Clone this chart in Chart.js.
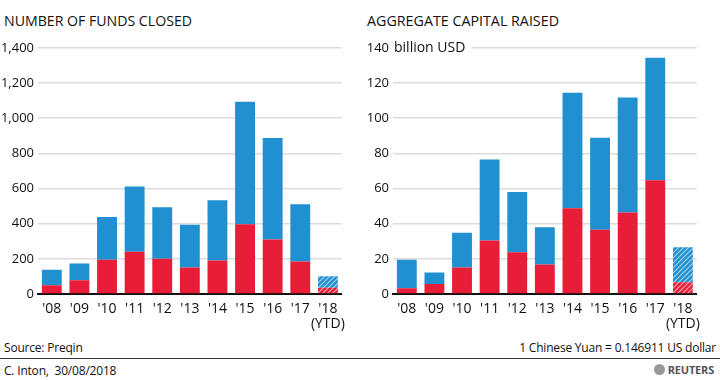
<!DOCTYPE html>
<html>
<head>
<meta charset="utf-8">
<script src="https://cdn.jsdelivr.net/npm/chart.js@4.4.1/dist/chart.umd.min.js"></script>
<style>
  body { margin: 0; width: 720px; height: 380px; background: #fff; font-family: 'Open Sans', sans-serif; color: #111; position: relative; overflow: hidden; }
  .title { position: absolute; top: 10px; font-size: 15px; white-space: nowrap; transform-origin: left top; }
  .box { position: absolute; top: 36px; height: 296px; }
  .foot { position: absolute; font-size: 12px; letter-spacing: -0.2px; }
  .rule { position: absolute; left: 0; width: 720px; top: 358px; height: 1px; background: #333; }
</style>
</head>
<body>
<div class="title" id="t1" style="left:4px" data-w="188">NUMBER OF FUNDS CLOSED</div>
<div class="title" id="t2" style="left:367px" data-w="192">AGGREGATE CAPITAL RAISED</div>
<div class="box" style="left:0; width:345px"><canvas id="funds-chart"></canvas></div>
<div class="box" style="left:355px; width:345px"><canvas id="capital-chart"></canvas></div>
<div class="foot" style="left:4px; top:339px">Source: Preqin</div>
<div class="foot" style="right:4px; top:339px">1 Chinese Yuan = 0.146911 US dollar</div>
<div class="rule"></div>
<div class="foot" style="left:4px; top:362px">C. Inton,&nbsp; 30/08/2018</div>
<div class="foot" style="right:6px; top:362px; font-weight:bold; font-size:11px; color:#555">
  <span style="display:inline-block;width:11px;height:11px;border-radius:50%;background:#999;vertical-align:-1px;margin-right:3px"></span>REUTERS</div>

<script>
const years = ["'08", "'09", "'10", "'11", "'12", "'13", "'14", "'15", "'16", "'17", ["'18", "(YTD)"]]

// number of funds closed: red part (bottom) and total height of bar
const fundsRed = [50, 78, 195, 240, 200, 150, 190, 396, 310, 185, 36]
const fundsTotal = [138, 173, 438, 611, 493, 394, 533, 1093, 887, 510, 101]
const fundsTicks = [0, 200, 400, 600, 800, 1000, 1200, 1400]

// aggregate capital raised, billion USD
const capitalRed = [3.3, 5.7, 15.1, 30.4, 23.7, 16.8, 48.8, 36.5, 46.3, 64.7, 6.7]
const capitalTotal = [19.5, 12.2, 34.8, 76.5, 58, 37.9, 114.4, 88.8, 111.7, 134.3, 26.6]
const capitalTicks = [0, 20, 40, 60, 80, 100, 120, 140]

const blue = '#2190d0'
const red = '#e81d37'

// squeeze the titles to the reference width (narrower original typeface)
document.querySelectorAll('.title').forEach(t => {
    let w = t.getBoundingClientRect().width
    t.style.transform = 'scaleX(' + (t.dataset.w / w) + ')'
})

function hatch(color) {
    let c = document.createElement('canvas')
    c.width = 5
    c.height = 5
    let g = c.getContext('2d')
    g.fillStyle = color
    g.fillRect(0, 0, 5, 5)
    g.strokeStyle = 'rgba(255,255,255,0.6)'
    g.lineWidth = 1.2
    g.beginPath()
    g.moveTo(-1, 6); g.lineTo(6, -1)
    g.moveTo(-1, 1); g.lineTo(1, -1)
    g.moveTo(4, 6); g.lineTo(6, 4)
    g.stroke()
    return g.createPattern(c, 'repeat')
}

function fill(color) {
    let pattern = hatch(color)
    return ctx => ctx.dataIndex === years.length - 1 ? pattern : color
}

const unitLabel = {
    id: 'unitLabel',
    afterDraw(chart, args, opts) {
        if (!opts.text) return
        let y = chart.scales.y
        let py = y.getPixelForValue(y.max)
        let c = chart.ctx
        c.save()
        c.font = "14px 'Open Sans'"
        let x = y.right - 3
        let w = c.measureText(opts.text).width
        c.fillStyle = '#fff'
        c.fillRect(x, py - 3, w + 10, 6)
        c.fillStyle = '#111'
        c.textBaseline = 'middle'
        c.fillText(opts.text, x + 4, py)
        c.restore()
    }
}

function makeChart(id, redValues, totals, ticks, fmt, unit) {
    let el = document.getElementById(id).getContext('2d')
    return new Chart(el, {
        type: 'bar',
        data: {
            labels: years,
            datasets: [
                {
                    data: redValues,
                    backgroundColor: fill(red)
                },
                {
                    data: totals.map((t, i) => +(t - redValues[i]).toFixed(1)),
                    backgroundColor: fill(blue)
                }
            ]
        },
        plugins: [unitLabel],
        options: {
            responsive: true,
            maintainAspectRatio: false,
            animation: false,
            layout: { padding: { top: 6, right: 3 } },
            datasets: { bar: { barPercentage: 0.72, categoryPercentage: 1 } },
            plugins: {
                legend: { display: false },
                tooltip: { enabled: false },
                unitLabel: { text: unit }
            },
            scales: {
                x: {
                    stacked: true,
                    grid: { display: false },
                    border: { color: '#111', width: 2 },
                    ticks: { color: '#111', font: { family: 'Open Sans', size: 14, lineHeight: 1.05 }, padding: 0, maxRotation: 0, autoSkip: false },
                    afterFit: s => { s.height = 38 }
                },
                y: {
                    stacked: true,
                    min: 0,
                    max: ticks[ticks.length - 1],
                    afterBuildTicks: s => { s.ticks = ticks.map(v => ({ value: v })) },
                    grid: { color: '#dcdcdc', lineWidth: 1.5, drawTicks: false },
                    border: { display: false },
                    ticks: { color: '#111', font: { family: 'Open Sans', size: 13 }, padding: 4, callback: fmt },
                    afterFit: s => { s.width = 38 }
                }
            }
        }
    })
}

makeChart('funds-chart', fundsRed, fundsTotal, fundsTicks, v => v.toLocaleString('en-US'), '')
makeChart('capital-chart', capitalRed, capitalTotal, capitalTicks, v => v, 'billion USD')
</script>
</body>
</html>
